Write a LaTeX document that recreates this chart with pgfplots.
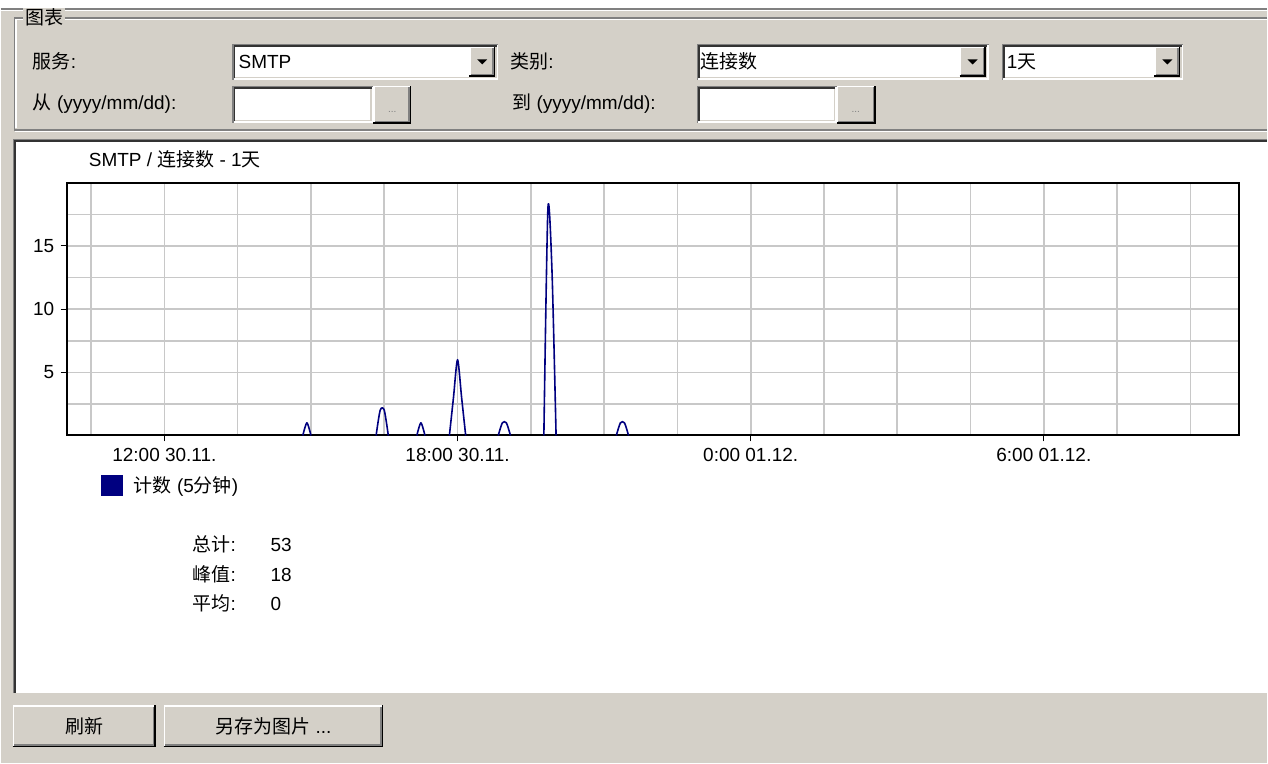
\documentclass[border=0pt]{standalone}
\usepackage{pgfplots}
\pgfplotsset{compat=1.18}
\usepackage{fontspec}
\setmainfont{Liberation Sans}
\newfontfamily\cjk{Noto Sans CJK SC}
\definecolor{winbg}{RGB}{212,208,200}
\definecolor{winshadow}{RGB}{128,128,128}
\definecolor{navyline}{RGB}{0,0,128}
\definecolor{gridgray}{RGB}{200,200,200}
\newcommand{\sunkenbox}[4]{%
  \fill[white] (#1,#2) rectangle (#3,#4);
  \draw[white, line width=1.5pt] (#1,#4-0.75) -- (#3-0.75,#4-0.75) -- (#3-0.75,#2);
  \draw[winbg, line width=1.5pt] (#1+1.5,#4-2.25) -- (#3-2.25,#4-2.25) -- (#3-2.25,#2+1.5);
  \draw[winshadow, line width=1.5pt] (#1+0.75,#4) -- (#1+0.75,#2+0.75) -- (#3,#2+0.75);
  \draw[black!80, line width=1.5pt] (#1+2.25,#4-1.5) -- (#1+2.25,#2+2.25) -- (#3-1.5,#2+2.25);
}
\newcommand{\raisedbox}[4]{%
  \fill[winbg] (#1,#2) rectangle (#3,#4);
  \draw[white, line width=1.5pt] (#1+0.75,#4-1.5) -- (#1+0.75,#2+0.75) -- (#3-1.5,#2+0.75);
  \draw[black, line width=1.5pt] (#1,#4-0.75) -- (#3-0.75,#4-0.75) -- (#3-0.75,#2);
  \draw[winshadow, line width=1.5pt] (#1+1.5,#4-2.25) -- (#3-2.25,#4-2.25) -- (#3-2.25,#2+1.5);
}
\newcommand{\arrowdown}[2]{\fill[black] (#1-5,#2-2.5) -- (#1+5,#2-2.5) -- (#1,#2+2.5) -- cycle;}
\pgfplotsset{spk/.style={navyline, line width=1.6pt, line join=round, mark=none, smooth, tension=0.45}}
\begin{document}
\fontsize{19}{22}\selectfont
\begin{tikzpicture}[x=1pt,y=1pt]
\begin{scope}[yscale=-1]
  % background
  \fill[winbg] (0,0) rectangle (1268,764);
  \fill[white] (0,0) rectangle (1268,8);
  \draw[winshadow, line width=1.5pt] (0,9) -- (1268,9);
  \draw[white, line width=1.5pt] (0,10.5) -- (1268,10.5);
  % group box
  \draw[winshadow, line width=1.5pt] (1268,18) -- (14,18) -- (14,130) -- (1268,130);
  \draw[white, line width=1.5pt] (1268,19.5) -- (15.5,19.5) -- (15.5,128.5);
  \draw[white, line width=1.5pt] (14,131.5) -- (1268,131.5);
  \fill[winbg] (22,8) rectangle (64,29);
  \node[anchor=base west, inner sep=0pt] at (25,25) {\cjk 图表};
  % row 1
  \node[anchor=base west, inner sep=0pt] at (32,69) {{\cjk 服务}:};
  \sunkenbox{232}{44}{498}{80}
  \raisedbox{469}{47}{495}{77}
  \arrowdown{482}{62}
  \node[anchor=base west, inner sep=0pt] at (238,69) {SMTP};
  \node[anchor=base west, inner sep=0pt] at (510,69) {{\cjk 类别}:};
  \sunkenbox{697}{44}{989}{80}
  \raisedbox{960}{47}{986}{77}
  \arrowdown{973}{62}
  \node[anchor=base west, inner sep=0pt] at (700,69) {\cjk 连接数};
  \sunkenbox{1002}{44}{1184}{80}
  \raisedbox{1155}{47}{1181}{77}
  \arrowdown{1168}{62}
  \node[anchor=base west, inner sep=0pt] at (1007,69) {1{\cjk 天}};
  % row 2
  \node[anchor=base west, inner sep=0pt] at (32,110) {{\cjk 从} (yyyy/mm/dd):};
  \sunkenbox{232}{86}{373}{123}
  \raisedbox{373}{86}{411}{124}
  \node[anchor=base, inner sep=0pt, text=winshadow] at (392,113) {\fontsize{10}{12}\selectfont ...};
  \node[anchor=base west, inner sep=0pt] at (512,110) {{\cjk 到} (yyyy/mm/dd):};
  \sunkenbox{697}{86}{837}{123}
  \raisedbox{837}{86}{876}{124}
  \node[anchor=base, inner sep=0pt, text=winshadow] at (856,113) {\fontsize{10}{12}\selectfont ...};
  % chart panel
  \fill[white] (12,139) rectangle (1268,694);
  \draw[winshadow, line width=1.5pt] (12.75,694) -- (12.75,139.75) -- (1268,139.75);
  \draw[black!80, line width=1.5pt] (14.25,694) -- (14.25,141.25) -- (1268,141.25);
  \draw[winbg, line width=1.5pt] (12,694.75) -- (1268,694.75);
  % title
  \node[anchor=base west, inner sep=0pt] at (88,167) {SMTP / {\cjk 连接数} - 1{\cjk 天}};
  % stats
  \node[anchor=base west, inner sep=0pt] at (192,552) {{\cjk 总计}:};
  \node[anchor=base west, inner sep=0pt] at (270,552) {53};
  \node[anchor=base west, inner sep=0pt] at (192,582) {{\cjk 峰值}:};
  \node[anchor=base west, inner sep=0pt] at (270,582) {18};
  \node[anchor=base west, inner sep=0pt] at (192,611) {{\cjk 平均}:};
  \node[anchor=base west, inner sep=0pt] at (270,611) {0};
  % buttons
  \raisedbox{12}{706}{155}{748}
  \node[anchor=base, inner sep=0pt] at (83.5,734) {\cjk 刷新};
  \raisedbox{163}{706}{383}{748}
  \node[anchor=base, inner sep=0pt] at (273,734) {{\cjk 另存为图片} ...};
\end{scope}
\begin{axis}[
  at={(66pt,-436pt)}, anchor=south west,
  scale only axis, width=1174pt, height=253pt,
  xmin=10, xmax=34, ymin=0, ymax=20,
  xtick={12,18,24,30},
  xticklabels={12:00 30.11., 18:00 30.11., 0:00 01.12., 6:00 01.12.},
  minor xtick={10.5,13.5,15,16.5,19.5,21,22.5,25.5,27,28.5,31.5,33},
  ytick={5,10,15},
  minor ytick={2.5,7.5,12.5,17.5},
  grid=both,
  grid style={gridgray, line width=1.6pt},
  minor grid style={gridgray, line width=1.6pt},
  major tick length=6pt, minor tick length=0pt,
  tick align=outside,
  xtick pos=bottom, ytick pos=left,
  tick style={black, line width=1pt},
  axis line style={black, line width=2pt},
  /pgf/number format/assume math mode=true,
  tick label style={font=\fontsize{19}{22}\selectfont},
  legend style={at={(axis description cs:0.02896,-0.1996)}, anchor=west,
    draw=none, fill=none, inner sep=0pt, nodes={inner sep=0pt},
    font=\fontsize{19}{22}\selectfont},
  legend image code/.code={\fill[navyline, draw=none] (0pt,-10.5pt) rectangle (22pt,10.5pt); \path[draw=none, fill=none] (0pt,0pt) -- (33pt,0pt);},
]
\addplot[spk] coordinates {(14.8333,0) (14.9167,1) (15,0)};
\addlegendentry{{\cjk 计数} (5{\cjk 分钟})}
\addplot[spk, forget plot] coordinates {(16.3333,0) (16.4167,2) (16.5,2) (16.5833,0)};
\addplot[spk, forget plot] coordinates {(17.1667,0) (17.25,1) (17.3333,0)};
\addplot[spk, forget plot] coordinates {(17.8333,0) (17.9167,3) (18,6) (18.0833,3) (18.1667,0)};
\addplot[spk, forget plot] coordinates {(18.8333,0) (18.9167,1) (19,1) (19.0833,0)};
\addplot[spk, forget plot] coordinates {(19.7667,0) (19.85,18) (19.9333,13) (20.0167,0)};
\addplot[spk, forget plot] coordinates {(21.25,0) (21.3333,1) (21.4167,1) (21.5,0)};
\end{axis}
\end{tikzpicture}
\end{document}
